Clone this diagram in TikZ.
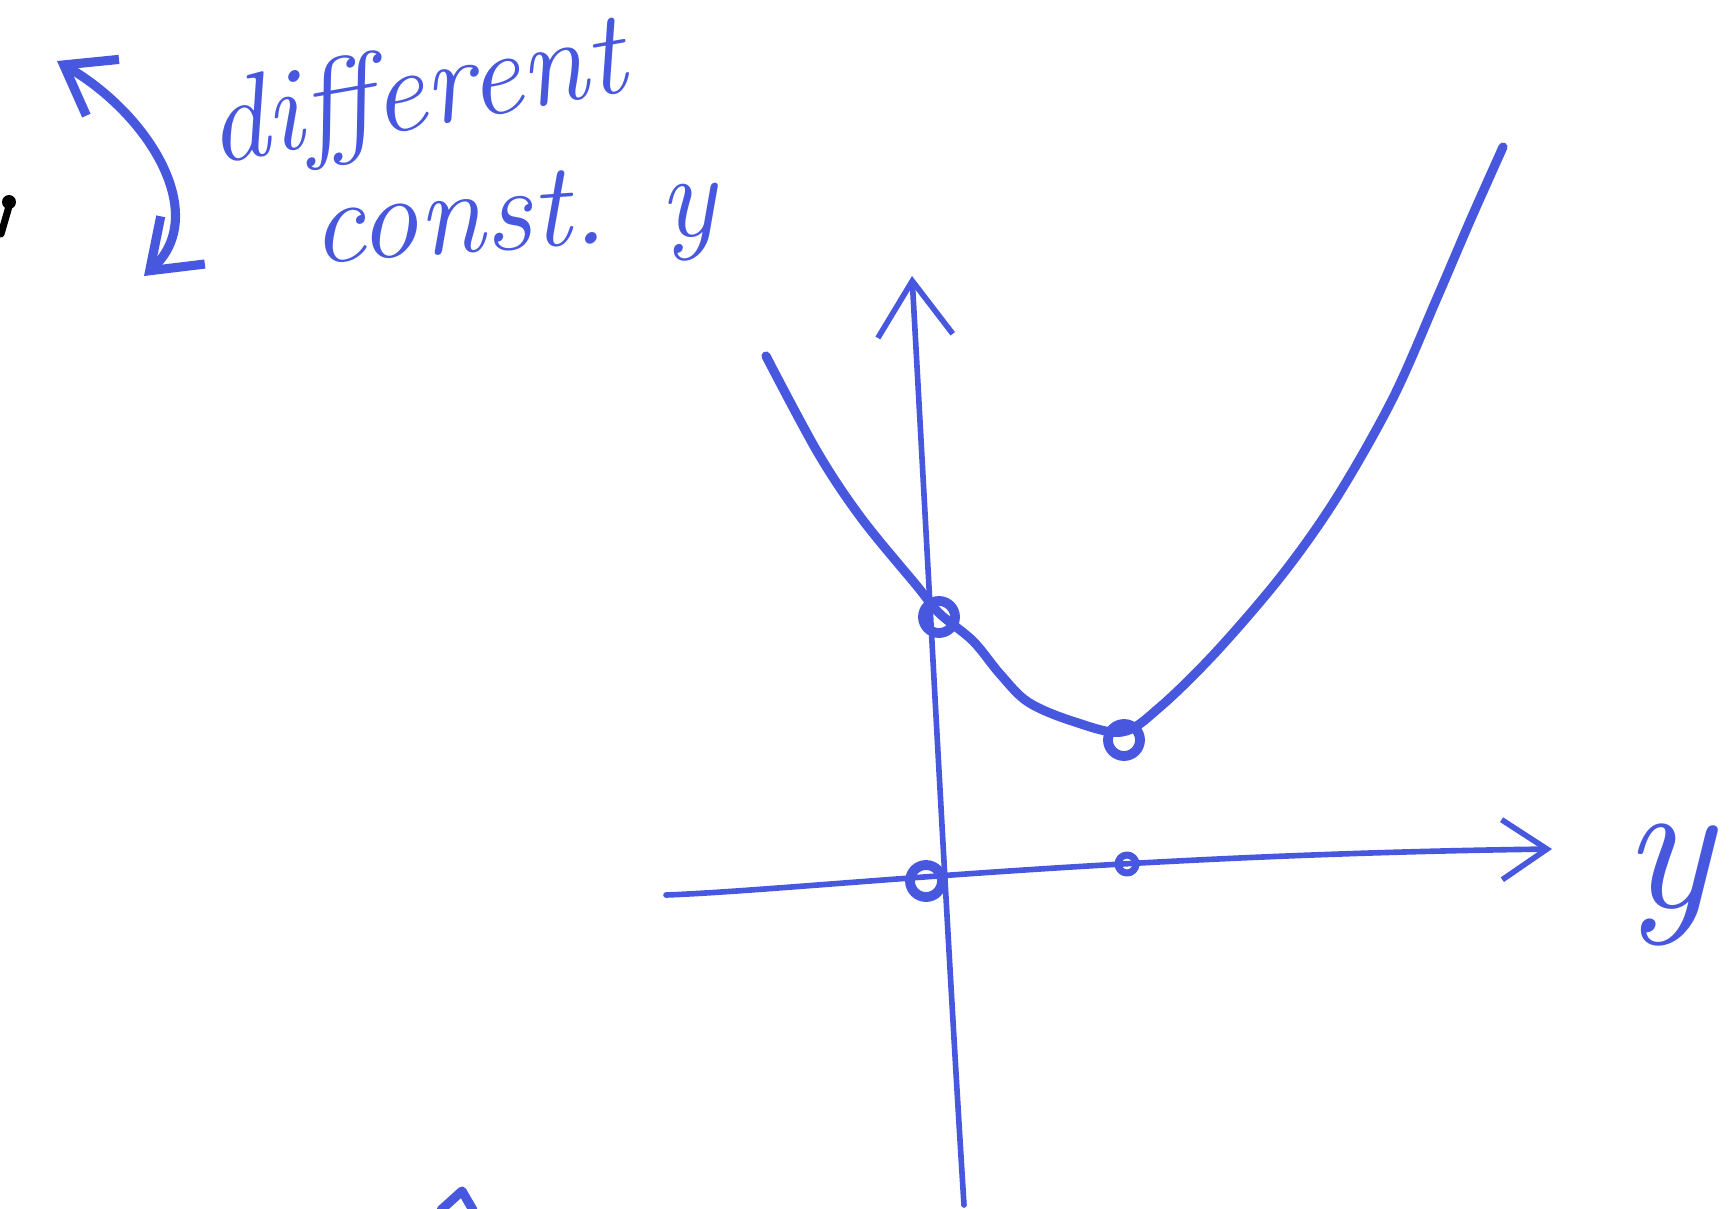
\documentclass[tikz,border=0pt]{standalone}
\usetikzlibrary{arrows.meta}
\definecolor{penblue}{RGB}{72,88,222}

\begin{document}
\begin{tikzpicture}[x=0.1mm, y=-0.1mm, line cap=round, line join=round,
    pen/.style={penblue, line width=2.6pt},
    axis/.style={penblue, line width=1.6pt},
    hand/.style={penblue, font=\fontsize{34}{40}\selectfont\itshape},
    dot/.style={circle, draw=penblue, line width=2.8pt, inner sep=0pt, minimum size=3.2mm},
    smalldot/.style={circle, draw=penblue, line width=2pt, inner sep=0pt, minimum size=1.8mm}]
        \useasboundingbox (0,0) rectangle (1733,1208);

        % ends of the axes
        \coordinate (ybot) at (964,1205);
        \coordinate (ytop) at (912,276);
        \coordinate (xleft) at (666,895);
        \coordinate (xright) at (1552,849);

        % vertical axis
        \draw[axis, -{Straight Barb[length=5.5mm, width=7.5mm]}] (ybot) .. controls (948,950) and (930,600) .. (ytop);

        % horizontal axis
        \draw[axis, -{Straight Barb[length=4.5mm, width=6mm]}] (xleft) .. controls (800,890) and (1100,855) .. (xright);
        \node[hand, font=\fontsize{54}{60}\selectfont\itshape] (ylbl) at (1668,885) {y};

        % marked points
        \node[dot] (orig) at (926,881) {};
        \node[smalldot] (ymin) at (1127,864) {};
        \node[dot] (fzero) at (939,617) {};
        \node[dot] (fmin) at (1124,740) {};

        % the curve
        \draw[pen] plot[smooth, tension=0.55] coordinates {
            (766,356) (818,453) (862,519) (917,586) (939,613) (973,641)
            (1000,674) (1028,702) (1072,721) (1122,732) (1160,707)
            (1216,652) (1282,575) (1337,497) (1393,398) (1437,298)
            (1470,221) (1503,147)};

        % curly double arrow and note
        \coordinate (brtop) at (57,61);
        \coordinate (brbot) at (144,276);
        \draw[pen, {Straight Barb[length=4.5mm, width=6.5mm]}-{Straight Barb[length=4.5mm, width=6.5mm]}] (brtop) .. controls (150,115) and (210,215) .. (brbot);
        \node[hand, rotate=10] (difflbl) at (416,98) {different};
        \node[hand, rotate=4] (constlbl) at (514,224) {const.\hspace{0.45em}y};

        % bits cut off at the edges
        \draw[black, line width=2pt] (10,203) -- (1,234);
        \fill[black] (9,202) circle[radius=0.7mm];
        \draw[pen] (441,1210) -- (462,1191) -- (473,1210);

    \end{tikzpicture}
\end{document}
